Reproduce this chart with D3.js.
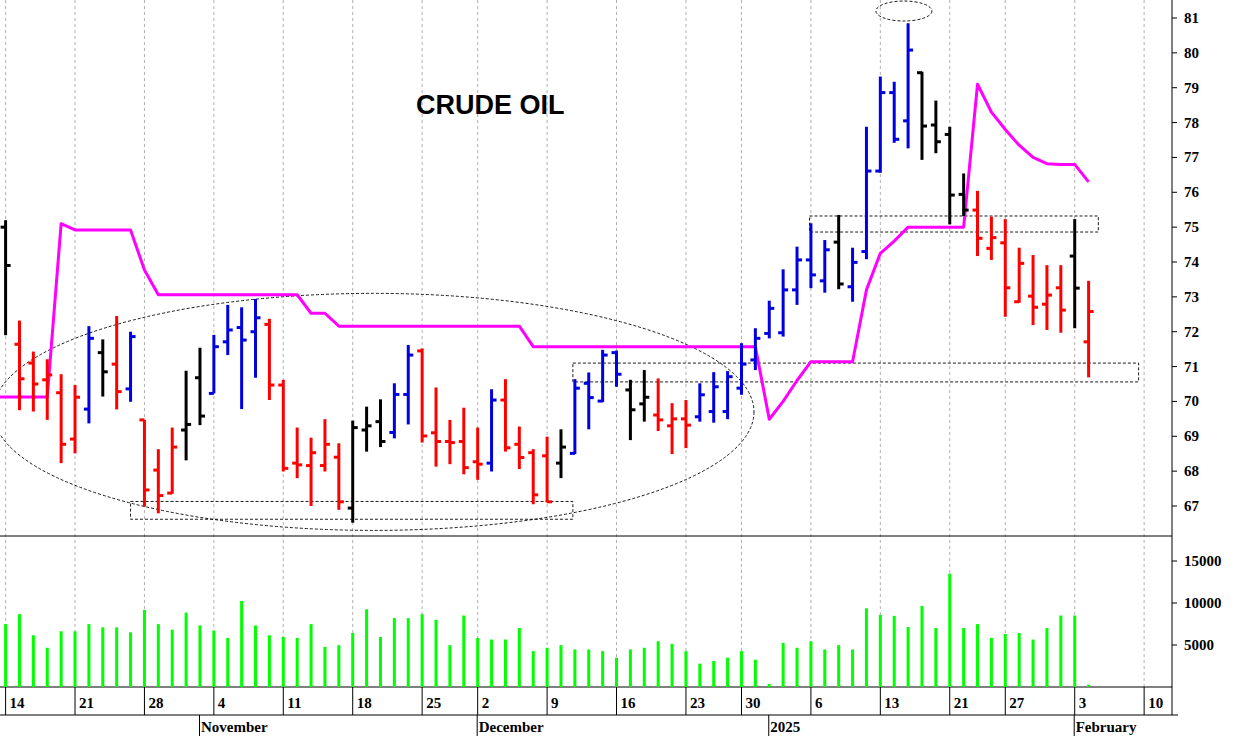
<!DOCTYPE html>
<html><head><meta charset="utf-8">
<script src="https://cdn.jsdelivr.net/npm/d3@7"></script>
<style>body{margin:0;background:#fff}svg{display:block}</style>
</head><body><svg id="c" width="1245" height="736"></svg>
<script>
const opens=[75.0,71.64,71.1,70.62,70.25,68.92,69.78,71.40,71.07,70.36,69.47,68.03,67.37,69.18,70.68,70.23,71.71,72.12,72.00,72.21,70.47,68.23,68.16,68.16,68.40,66.94,69.18,69.42,69.11,70.20,71.45,69.10,68.85,68.85,68.27,68.23,70.04,68.77,68.53,68.44,68.23,68.51,70.52,70.01,71.40,70.33,69.93,69.61,69.30,69.50,69.56,69.71,69.71,70.38,71.19,71.95,71.97,73.20,74.06,73.46,74.57,73.29,74.30,76.61,78.86,78.05,79.43,77.93,77.66,75.94,75.49,74.39,74.55,72.86,73.02,72.79,73.26,74.17,71.71];
const highs=[75.2,72.32,71.43,71.21,70.78,70.47,72.16,71.78,72.45,72.0,69.47,68.63,69.25,70.88,71.54,71.91,72.77,72.70,72.94,72.37,70.62,69.25,68.96,69.49,68.80,69.45,69.85,70.06,70.52,71.62,71.52,70.40,69.47,69.82,69.25,70.35,70.64,69.28,68.63,68.99,69.20,70.64,70.83,71.48,71.46,70.62,70.90,70.66,69.95,70.04,70.52,70.84,70.87,71.67,72.10,72.89,73.79,74.44,75.11,74.63,75.35,74.41,77.88,79.32,79.17,80.85,79.46,78.63,77.88,76.54,76.04,75.30,75.23,74.41,74.20,73.91,73.91,75.23,73.46];
const lows=[71.9,69.75,69.71,69.47,68.23,68.51,69.37,70.14,69.77,69.99,66.98,66.79,67.35,68.31,69.32,70.23,71.33,69.78,70.68,70.04,67.99,67.80,67.0,67.99,66.89,66.52,68.56,68.69,68.94,69.34,68.82,68.13,68.20,67.91,67.75,67.99,68.56,68.06,67.05,67.10,67.80,68.49,69.20,69.98,70.42,68.89,69.42,69.15,68.49,68.66,69.42,69.39,69.49,70.19,70.90,71.81,71.86,72.77,73.25,73.12,73.22,72.86,74.08,76.56,77.42,77.26,76.93,77.12,75.08,75.32,74.17,74.06,72.43,72.83,72.19,72.05,71.97,72.10,70.69];
const closes=[73.9,70.65,70.5,70.76,68.77,70.12,71.81,70.85,70.28,71.86,67.46,67.30,68.69,69.34,69.58,71.57,72.05,71.76,72.40,70.47,68.08,68.18,68.53,68.77,67.12,69.25,69.30,68.85,70.20,71.33,69.01,68.85,68.82,68.10,68.20,70.04,68.67,68.39,67.32,67.12,68.69,70.38,70.11,71.33,70.78,69.76,70.12,69.47,69.50,69.32,70.19,70.42,70.71,71.07,71.81,72.67,73.20,74.06,73.63,74.35,73.37,73.99,76.61,78.86,77.52,80.08,77.90,77.45,75.92,75.49,74.68,74.70,73.26,73.96,72.70,73.05,72.62,73.25,72.58];
const barColors="krrrrrbkrbrrrkkbbbbrrrrrrkkkbbrrrrrbrrrrkbbbbkkrrrbbbbbbbbbbkbbbbbkkkkrrrrrrrkr";
const volumes=[7490,8670,6160,4670,6630,6630,7490,7100,7100,6510,9180,7490,6820,8860,7330,6710,5840,10240,7330,6160,5960,5840,7490,4780,4980,6430,9250,5960,8200,8200,8670,8000,4980,8510,5840,5650,5650,7020,4270,4670,4980,4470,4470,4270,3490,4470,4670,5450,5140,4270,2780,3100,3490,4270,3250,350,5250,4670,5450,4470,4980,4470,9370,8590,8470,7140,9650,7020,13490,7020,7490,5840,6310,6430,5650,7020,8510,8510,270];
const trendLine=[70.13,70.13,70.13,70.13,75.1,74.92,74.92,74.92,74.92,74.92,73.77,73.06,73.06,73.06,73.06,73.06,73.06,73.06,73.06,73.06,73.06,73.06,72.53,72.53,72.16,72.16,72.16,72.16,72.16,72.16,72.16,72.16,72.16,72.16,72.16,72.16,72.16,72.16,71.57,71.57,71.57,71.57,71.57,71.57,71.57,71.57,71.57,71.57,71.57,71.57,71.57,71.57,71.57,71.57,71.57,69.49,70.0,70.6,71.14,71.14,71.14,71.14,73.2,74.25,74.6,75.0,75.0,75.0,75.0,75.0,79.1,78.3,77.8,77.35,77.0,76.82,76.8,76.8,76.3];
const priceTicks=[67,68,69,70,71,72,73,74,75,76,77,78,79,80,81];
const volTicks=[5000,10000,15000];
const weekTicks=[[0,"14"],[5,"21"],[10,"28"],[15,"4"],[20,"11"],[25,"18"],[30,"25"],[34,"2"],[39,"9"],[44,"16"],[49,"23"],[53,"30"],[58,"6"],[63,"13"],[68,"21"],[72,"27"],[77,"3"],[82,"10"]];
const monthTicks=[[14,"November"],[34,"December"],[55,"2025"],[77,"February"]];

const svg=d3.select("#c");
const x=d3.scaleLinear().domain([0,78]).range([5.6,1088.6]);
const y=d3.scaleLinear().domain([67,81]).range([506,18]);
const yv=d3.scaleLinear().domain([0,10000]).range([687,603]);
const AX=1172;
const colMap={k:"#000",r:"#ff0000",b:"#0000e0"};
const serif="'Liberation Serif','Times New Roman',serif";

svg.append("g").selectAll("line").data(weekTicks.filter(d=>x(d[0])<AX)).join("line")
 .attr("x1",d=>x(d[0])).attr("x2",d=>x(d[0])).attr("y1",0).attr("y2",687)
 .attr("stroke","#b0b0b0").attr("stroke-dasharray","3,3").attr("stroke-width",1);

svg.append("line").attr("x1",0).attr("x2",AX).attr("y1",536).attr("y2",536).attr("stroke","#000");
svg.append("line").attr("x1",0).attr("x2",AX).attr("y1",687).attr("y2",687).attr("stroke","#000");
svg.append("line").attr("x1",0).attr("x2",1178).attr("y1",715).attr("y2",715).attr("stroke","#000");
svg.append("line").attr("x1",AX).attr("x2",AX).attr("y1",0).attr("y2",715).attr("stroke","#000");

const ann=svg.append("g").attr("fill","none").attr("stroke","#000").attr("stroke-dasharray","3,2").attr("stroke-width",0.9);
ann.append("ellipse").attr("cx",x(26.5)).attr("cy",y(69.7)).attr("rx",x(53.9)-x(26.5)).attr("ry",y(66.3)-y(69.7));
ann.append("ellipse").attr("cx",x(64.7)).attr("cy",y(81.2)).attr("rx",28).attr("ry",10);
ann.append("rect").attr("x",x(9)).attr("y",y(67.13)).attr("width",x(41)-x(9)-2).attr("height",y(66.62)-y(67.13));
ann.append("rect").attr("x",x(41)-2).attr("y",y(71.1)).attr("width",x(81.6)-x(41)+2).attr("height",y(70.56)-y(71.1));
ann.append("rect").attr("x",x(57.9)).attr("y",y(75.32)).attr("width",x(78.7)-x(57.9)).attr("height",y(74.86)-y(75.32));

svg.append("path").datum(trendLine).attr("fill","none").attr("stroke","#ff00ff").attr("stroke-width",3)
 .attr("stroke-linejoin","round")
 .attr("d",d3.line().x((d,i)=>i===0?0:x(i)).y(d=>y(d)));

const bars=svg.append("g").selectAll("g").data(opens.map((o,i)=>({i,o,h:highs[i],l:lows[i],c:closes[i],col:colMap[barColors[i]]}))).join("g")
 .attr("stroke",d=>d.col).attr("stroke-width",3);
bars.append("line").attr("x1",d=>x(d.i)).attr("x2",d=>x(d.i)).attr("y1",d=>y(d.h)).attr("y2",d=>y(d.l));
bars.append("line").attr("x1",d=>x(d.i)-5).attr("x2",d=>x(d.i)).attr("y1",d=>y(d.o)).attr("y2",d=>y(d.o));
bars.append("line").attr("x1",d=>x(d.i)).attr("x2",d=>x(d.i)+5).attr("y1",d=>y(d.c)).attr("y2",d=>y(d.c));

svg.append("g").selectAll("rect").data(volumes).join("rect")
 .attr("x",(d,i)=>x(i)-1.5).attr("width",3).attr("y",d=>yv(d)).attr("height",d=>687-yv(d)).attr("fill","#00ff00");

const pa=svg.append("g");
pa.selectAll("line").data(priceTicks).join("line").attr("x1",AX).attr("x2",AX+5).attr("y1",d=>y(d)).attr("y2",d=>y(d)).attr("stroke","#000");
pa.selectAll("text").data(priceTicks).join("text").attr("x",1184).attr("y",d=>y(d)+5).text(d=>d)
 .attr("font-family",serif).attr("font-weight","bold").attr("font-size",15);
const va=svg.append("g");
va.selectAll("line").data(volTicks).join("line").attr("x1",AX).attr("x2",AX+5).attr("y1",d=>yv(d)).attr("y2",d=>yv(d)).attr("stroke","#000");
va.selectAll("text").data(volTicks).join("text").attr("x",1184).attr("y",d=>yv(d)+5).text(d=>d)
 .attr("font-family",serif).attr("font-weight","bold").attr("font-size",15);

const da=svg.append("g");
da.selectAll("line").data(weekTicks).join("line").attr("x1",d=>x(d[0])).attr("x2",d=>x(d[0])).attr("y1",687).attr("y2",715).attr("stroke","#000");
da.selectAll("text").data(weekTicks).join("text").attr("x",d=>x(d[0])+4).attr("y",708).text(d=>d[1])
 .attr("font-family",serif).attr("font-weight","bold").attr("font-size",15);
const ma=svg.append("g");
ma.selectAll("line").data(monthTicks).join("line").attr("x1",d=>x(d[0])-0.5).attr("x2",d=>x(d[0])-0.5).attr("y1",715).attr("y2",736).attr("stroke","#000");
ma.selectAll("text").data(monthTicks).join("text").attr("x",d=>x(d[0])+1).attr("y",732).text(d=>d[1])
 .attr("font-family",serif).attr("font-weight","bold").attr("font-size",15);

svg.append("text").attr("x",416).attr("y",114).text("CRUDE OIL").attr("font-family","'Liberation Sans',Arial,sans-serif")
 .attr("font-weight","bold").attr("font-size",27);
</script></body></html>
